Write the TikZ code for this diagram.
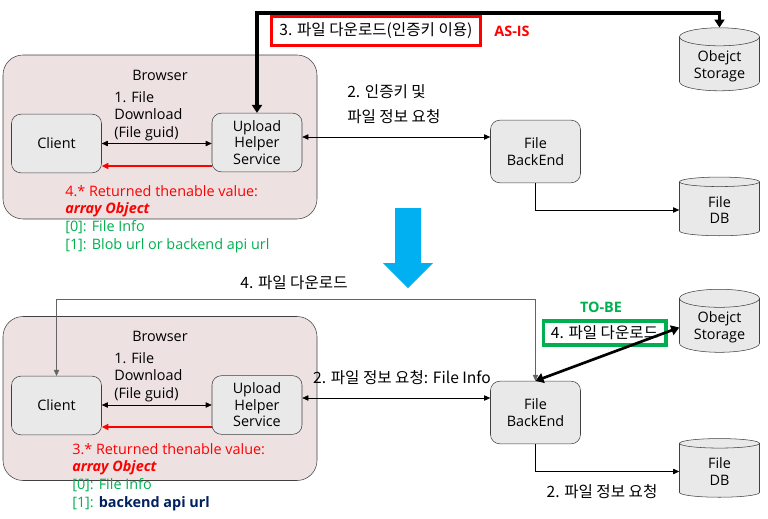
\documentclass[tikz,border=0pt]{standalone}
\usepackage{fontspec}
\setmainfont{Open Sans}
\newfontfamily\kr{Noto Sans CJK KR}
\usetikzlibrary{arrows.meta, positioning, shapes.geometric}

\definecolor{brwfill}{RGB}{237,225,225}
\definecolor{boxfill}{RGB}{233,233,233}
\definecolor{edgegray}{RGB}{64,64,64}
\definecolor{linegray}{RGB}{100,100,100}
\definecolor{okgreen}{RGB}{0,176,80}
\definecolor{navy}{RGB}{0,32,96}
\definecolor{skyblue}{RGB}{0,176,240}

\begin{document}
\begin{tikzpicture}[
  x=0.75pt, y=-0.75pt,
  every node/.style={font=\fontsize{10.8}{12.4}\selectfont},
  browser/.style={rectangle, rounded corners=15pt, draw=edgegray, fill=brwfill, minimum width=235.5pt, minimum height=123pt},
  proc/.style={rectangle, rounded corners=7pt, draw=edgegray, fill=boxfill, minimum width=67.5pt, minimum height=44pt, align=center},
  store/.style={cylinder, shape border rotate=90, aspect=0.3, draw=edgegray, fill=boxfill, minimum width=60pt, minimum height=44pt, align=center},
  krtext/.style={font=\kr\fontsize{11.7}{13}\selectfont},
  krwide/.style={font=\kr\fontsize{11.7}{18.75}\selectfont, align=left, anchor=west, inner xsep=0pt},
  note/.style={align=left, anchor=west, inner xsep=0pt, font=\fontsize{10.8}{13.3}\selectfont},
  oneway/.style={-{Triangle[length=4.5pt, width=4pt]}},
  twoway/.style={{Triangle[length=4.5pt, width=4pt]}-{Triangle[length=4.5pt, width=4pt]}},
  heavy/.style={line width=2.5pt, {Triangle[length=6pt, width=7.5pt]}-{Triangle[length=6pt, width=7.5pt]}},
  ret/.style={red, line width=1.2pt, -{Triangle[length=5pt, width=4.5pt]}}
]
\useasboundingbox (0,0) rectangle (768,518);

% AS-IS
\node[browser] (browser1) at (160,137) {};
\node (brwlab1) at (160,75) {Browser};
\node[proc] (client1) at (56.5,143.5) {Client};
\node[proc] (helper1) at (257,142.5) {Upload\\Helper\\Service};
\node[proc, minimum height=47pt] (backend1) at (535.5,151.5) {File\\BackEnd};
\node[store] (storage1) at (719.5,66) {Obejct\\Storage};
\node[store] (db1) at (719.5,210) {File\\DB};

\node[note] (req1) at (114,116) {1. File\\Download\\(File guid)};
\node[note] (ret1) at (65,219) {\textcolor{red}{4.* Returned thenable value:}\\
  \textcolor{red}{\bfseries\itshape array Object}\\
  \textcolor{okgreen}{[0]: File Info}\\
  \textcolor{okgreen}{[1]: Blob url or backend api url}};
\node[krwide] (info1) at (347,104.5) {2. 인증키 및\\파일 정보 요청};
\node[krtext, draw=red, line width=2.5pt, fill=white, minimum width=157pt, minimum height=22pt] (asisbox) at (376,30.5) {3. 파일 다운로드(인증키 이용)};
\node[red, font=\bfseries\fontsize{10.8}{12}\selectfont] (asis) at (512,31) {AS-IS};

\coordinate (k1) at (400,137);
\coordinate (r1) at (150,166);
\draw[twoway] (client1.east) -- (client1.east -| helper1.west);
\draw[ret] (helper1.west |- r1) -- (client1.east |- r1);
\draw[twoway] (helper1.east |- k1) -- (backend1.west |- k1);
\draw[oneway] (backend1.south) |- (db1.west);
\draw[heavy] (helper1.north) -- ++(0,-100) -| (storage1.north);

\fill[skyblue] (395,208) -- (421,208) -- (421,263) -- (433,263) -- (408,288)
  -- (383,263) -- (395,263) -- cycle;

% TO-BE
\node[browser] (browser2) at (160,398.5) {};
\node (brwlab2) at (160,336) {Browser};
\node[proc] (client2) at (56.5,405.5) {Client};
\node[proc] (helper2) at (257,405) {Upload\\Helper\\Service};
\node[proc, minimum height=47pt] (backend2) at (535.5,412.5) {File\\BackEnd};
\node[store] (storage2) at (719.5,327.5) {Obejct\\Storage};
\node[store] (db2) at (719.5,471.5) {File\\DB};

\node[note] (req2) at (114,377) {1. File\\Download\\(File guid)};
\node[note] (ret2) at (72,477) {\textcolor{red}{3.* Returned thenable value:}\\
  \textcolor{red}{\bfseries\itshape array Object}\\
  \textcolor{okgreen}{[0]: File Info}\\
  \textcolor{okgreen}{[1]:} \textcolor{navy}{\bfseries backend api url}};
\node[krtext] (down2) at (294,283) {4. 파일 다운로드};
\node[krtext] (info2) at (402,378) {2. 파일 정보 요청: File Info};
\node[krtext] (dbreq2) at (602,492) {2. 파일 정보 요청};
\node[okgreen, font=\bfseries\fontsize{10.8}{12}\selectfont] (tobe) at (601,307) {TO-BE};
\node[krtext, draw=okgreen, line width=2.5pt, minimum width=92pt, minimum height=18pt] (tobebox) at (604.5,333) {4. 파일 다운로드};

\coordinate (k2) at (400,398);
\coordinate (r2) at (150,427);
\draw[twoway] (client2.east |- helper2.west) -- (helper2.west);
\draw[ret] (helper2.west |- r2) -- (client2.east |- r2);
\draw[twoway] (helper2.east |- k2) -- (backend2.west |- k2);
\draw[oneway] (backend2.south) |- (db2.west);
\draw[twoway, linegray] (backend2.north) -- ++(0,-82) -| (client2.north);
\draw[heavy, line width=2pt] (backend2.north) -- (storage2.west);
\end{tikzpicture}
\end{document}
